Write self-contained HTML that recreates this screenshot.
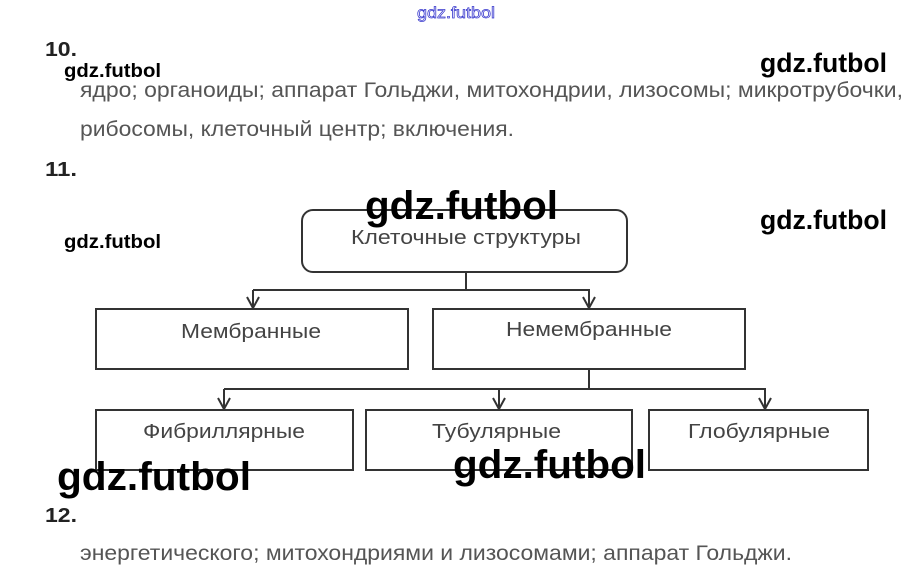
<!DOCTYPE html>
<html><head><meta charset="utf-8"><style>
html,body{margin:0;padding:0;background:#fff;width:912px;height:584px;overflow:hidden}
svg{display:block}
.t{font-family:"Liberation Sans",sans-serif;fill:#555;font-size:21px}
.l{font-family:"Liberation Sans",sans-serif;fill:#444;font-size:20px}
.n{font-family:"Liberation Sans",sans-serif;fill:#222;font-size:20px;font-weight:bold}
.w{font-family:"Liberation Sans",sans-serif;fill:#000;font-weight:bold}
.b{fill:none;stroke:#333;stroke-width:2}
</style></head><body>
<svg width="912" height="584" viewBox="0 0 912 584" xmlns="http://www.w3.org/2000/svg">
<text x="417" y="18" font-family="Liberation Sans,sans-serif" font-size="16" fill="none" stroke="#3333cc" stroke-width="0.7" textLength="78" lengthAdjust="spacingAndGlyphs">gdz.futbol</text>

<text class="n" x="45" y="56" textLength="32" lengthAdjust="spacingAndGlyphs">10.</text>
<text class="w" x="64" y="77" font-size="19" textLength="97" lengthAdjust="spacingAndGlyphs">gdz.futbol</text>
<text class="w" x="760" y="72" font-size="27" font-weight="normal" textLength="127" lengthAdjust="spacingAndGlyphs" style="font-weight:bold">gdz.futbol</text>
<text class="t" x="80" y="97" textLength="823" lengthAdjust="spacingAndGlyphs">ядро; органоиды; аппарат Гольджи, митохондрии, лизосомы; микротрубочки,</text>
<text class="t" x="80" y="136" textLength="434" lengthAdjust="spacingAndGlyphs">рибосомы, клеточный центр; включения.</text>
<text class="n" x="45" y="176" textLength="32" lengthAdjust="spacingAndGlyphs">11.</text>

<rect class="b" x="302" y="210" width="325" height="62" rx="11"/>
<text class="l" x="351" y="244" textLength="230" lengthAdjust="spacingAndGlyphs">Клеточные структуры</text>
<text class="w" x="365" y="219" font-size="40" textLength="193" lengthAdjust="spacingAndGlyphs">gdz.futbol</text>
<text class="w" x="760" y="229" font-size="27" textLength="127" lengthAdjust="spacingAndGlyphs">gdz.futbol</text>
<text class="w" x="64" y="248" font-size="19" textLength="97" lengthAdjust="spacingAndGlyphs">gdz.futbol</text>

<path class="b" d="M466 272V290M253 290H590M253 290V308M589 290V308"/>
<path class="b" d="M247 297L253 308L259 297M583 297L589 308L595 297"/>
<rect class="b" x="96" y="309" width="312" height="60"/>
<rect class="b" x="433" y="309" width="312" height="60"/>
<text class="l" x="181" y="338" textLength="140" lengthAdjust="spacingAndGlyphs">Мембранные</text>
<text class="l" x="506" y="336" textLength="166" lengthAdjust="spacingAndGlyphs">Немембранные</text>

<path class="b" d="M589 369V389M224 389H766M224 389V409M499 389V409M765 389V409"/>
<path class="b" d="M218 398L224 409L230 398M493 398L499 409L505 398M759 398L765 409L771 398"/>
<rect class="b" x="96" y="410" width="257" height="60"/>
<rect class="b" x="366" y="410" width="266" height="60"/>
<rect class="b" x="649" y="410" width="219" height="60"/>
<text class="l" x="143" y="438" textLength="162" lengthAdjust="spacingAndGlyphs">Фибриллярные</text>
<text class="l" x="432" y="438" textLength="129" lengthAdjust="spacingAndGlyphs">Тубулярные</text>
<text class="l" x="688" y="438" textLength="142" lengthAdjust="spacingAndGlyphs">Глобулярные</text>

<text class="w" x="57" y="490" font-size="40" textLength="194" lengthAdjust="spacingAndGlyphs">gdz.futbol</text>
<text class="w" x="453" y="478" font-size="40" textLength="193" lengthAdjust="spacingAndGlyphs">gdz.futbol</text>

<text class="n" x="45" y="522" textLength="32" lengthAdjust="spacingAndGlyphs">12.</text>
<text class="t" x="80" y="560" textLength="712" lengthAdjust="spacingAndGlyphs">энергетического; митохондриями и лизосомами; аппарат Гольджи.</text>
</svg>
</body></html>
